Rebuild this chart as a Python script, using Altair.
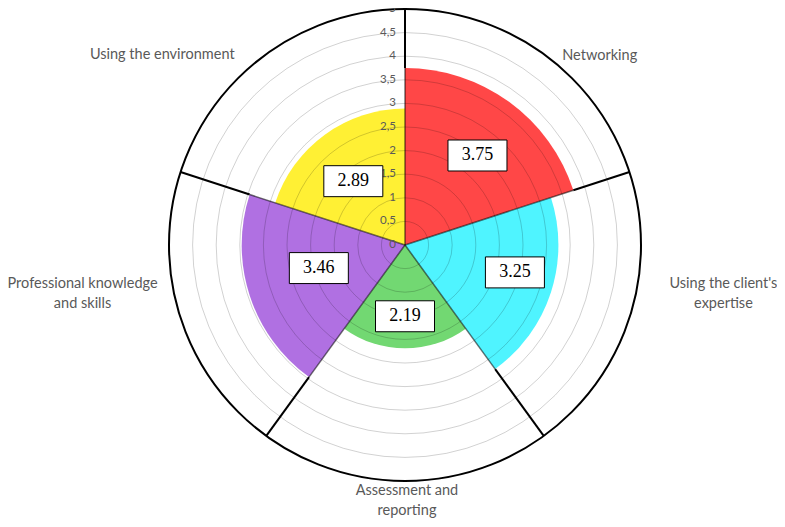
import math
import altair as alt
import pandas as pd

# ---------------- data ----------------
categories = ["Networking", "Using the client's expertise", "Assessment and reporting",
              "Professional knowledge and skills", "Using the environment"]
category_text = ["Networking", "Using the client's\nexpertise", "Assessment and\nreporting",
                 "Professional knowledge\nand skills", "Using the environment"]
values = [3.75, 3.25, 2.19, 3.46, 2.89]
value_labels = ["3.75", "3.25", "2.19", "3.46", "2.89"]
tick_values = [0, 0.5, 1, 1.5, 2, 2.5, 3, 3.5, 4, 4.5, 5]
tick_labels = ["0", "0,5", "1", "1,5", "2", "2,5", "3", "3,5", "4", "4,5", "5"]

# ---------------- style ----------------
colors = ["#ff4747", "#4ff4ff", "#72d872", "#b070e2", "#fff034"]
RMAX = 5
W, H = 769, 511
CX, CY = 397, 237          # centre of the polar area inside the plot
R = 236                    # outer radius in px
PX = R / RMAX
TEXT_GRAY = "#595959"
# value-box placement (angle in degrees, radius in axis units)
box_angle = [39, 104, 180, 255, 321]
box_radius = [2.44, 2.40, 1.51, 1.89, 1.74]
# category label offsets (px) from the outer rim at the sector mid-angle (first line centre)
label_offset = [(56, 2), (94, -34), (2, 10), (-98, -34), (-104, 1)]

n = len(categories)
step = 360 / n

sectors = pd.DataFrame({
    "cat": categories,
    "value": values,
    "t0": [i * step for i in range(n)],
    "t1": [(i + 1) * step for i in range(n)],
})

grid = pd.DataFrame({"r": tick_values[1:-1], "t0": 0, "t1": 360})
outer = pd.DataFrame({"r": [RMAX], "t0": [0], "t1": [360]})

def sx(r, deg):
    return r * math.sin(math.radians(deg))

def sy(r, deg):
    return r * math.cos(math.radians(deg))

inner_rows, outer_rows = [], []
for k in range(n):
    ang = k * step
    reach = max(values[k], values[k - 1])
    inner_rows.append({"x": 0, "y": 0, "x2": sx(reach, ang), "y2": sy(reach, ang)})
    outer_rows.append({"x": sx(reach, ang), "y": sy(reach, ang),
                       "x2": sx(RMAX, ang), "y2": sy(RMAX, ang)})
spokes_in = pd.DataFrame(inner_rows)
spokes_out = pd.DataFrame(outer_rows)

ticks = pd.DataFrame({"x": 0, "y": tick_values, "label": tick_labels})

boxes = pd.DataFrame({
    "x": [sx(r, a) for r, a in zip(box_radius, box_angle)],
    "y": [sy(r, a) for r, a in zip(box_radius, box_angle)],
    "label": value_labels,
})

cat_labels = pd.DataFrame({
    "x": [sx(RMAX, (i + 0.5) * step) + label_offset[i][0] / PX for i in range(n)],
    "y": [sy(RMAX, (i + 0.5) * step) - label_offset[i][1] / PX for i in range(n)],
    "label": category_text,
})

# ---------------- scales ----------------
theta_scale = alt.Scale(domain=[0, 360], range=[0, 2 * math.pi])
radius_scale = alt.Scale(type="linear", domain=[0, RMAX], range=[0, R], zero=True)
x_scale = alt.Scale(domain=[-CX / PX, (W - CX) / PX], nice=False, zero=False)
y_scale = alt.Scale(domain=[-(H - CY) / PX, CY / PX], nice=False, zero=False)

center = dict(x=alt.value(CX), y=alt.value(CY))

fills = alt.Chart(sectors).mark_arc(strokeWidth=0).encode(
    theta=alt.Theta("t0:Q", scale=theta_scale, stack=None),
    theta2="t1:Q",
    radius=alt.Radius("value:Q", scale=radius_scale),
    color=alt.Color("cat:N", scale=alt.Scale(domain=categories, range=colors), legend=None),
    **center,
)

grid_layer = alt.Chart(grid).mark_arc(fillOpacity=0, stroke="black", strokeOpacity=0.18,
                                      strokeWidth=1).encode(
    theta=alt.Theta("t0:Q", scale=theta_scale, stack=None),
    theta2="t1:Q",
    radius=alt.Radius("r:Q", scale=radius_scale),
    **center,
)

outer_layer = alt.Chart(outer).mark_arc(fillOpacity=0, stroke="black", strokeWidth=2).encode(
    theta=alt.Theta("t0:Q", scale=theta_scale, stack=None),
    theta2="t1:Q",
    radius=alt.Radius("r:Q", scale=radius_scale),
    **center,
)

spoke_in_layer = alt.Chart(spokes_in).mark_rule(color="black", strokeWidth=1.5, opacity=0.55).encode(
    x=alt.X("x:Q", scale=x_scale, axis=None), y=alt.Y("y:Q", scale=y_scale, axis=None),
    x2="x2:Q", y2="y2:Q",
)
spoke_out_layer = alt.Chart(spokes_out).mark_rule(color="black", strokeWidth=2).encode(
    x=alt.X("x:Q", scale=x_scale, axis=None), y=alt.Y("y:Q", scale=y_scale, axis=None),
    x2="x2:Q", y2="y2:Q",
)

tick_layer = alt.Chart(ticks).mark_text(align="right", baseline="middle", dx=-9,
                                        font="Lato", fontSize=11.5, color=TEXT_GRAY).encode(
    x=alt.X("x:Q", scale=x_scale, axis=None), y=alt.Y("y:Q", scale=y_scale, axis=None),
    text="label:N",
)

box_layer = alt.Chart(boxes).mark_point(
    shape="M-1,-0.525L1,-0.525L1,0.525L-1,0.525Z", size=59 * 59, filled=True,
    fill="white", stroke="black", strokeWidth=1, opacity=1,
).encode(
    x=alt.X("x:Q", scale=x_scale, axis=None), y=alt.Y("y:Q", scale=y_scale, axis=None),
)
box_text = alt.Chart(boxes).mark_text(align="center", baseline="middle", font="Liberation Serif",
                                      fontSize=18, color="black").encode(
    x=alt.X("x:Q", scale=x_scale, axis=None), y=alt.Y("y:Q", scale=y_scale, axis=None),
    text="label:N",
)

cat_layer = alt.Chart(cat_labels).mark_text(align="center", baseline="middle", font="Lato",
                                            fontSize=14.5, color=TEXT_GRAY, lineBreak="\n",
                                            lineHeight=20).encode(
    x=alt.X("x:Q", scale=x_scale, axis=None), y=alt.Y("y:Q", scale=y_scale, axis=None),
    text="label:N",
)

chart = alt.layer(
    fills, grid_layer, spoke_in_layer, spoke_out_layer, outer_layer,
    tick_layer, box_layer, box_text, cat_layer,
).properties(
    width=W, height=H, autosize=alt.AutoSizeParams(type="none"), padding=0,
).configure_view(stroke=None)

chart.save("out.html", embed_options={"renderer": "svg", "actions": False})
